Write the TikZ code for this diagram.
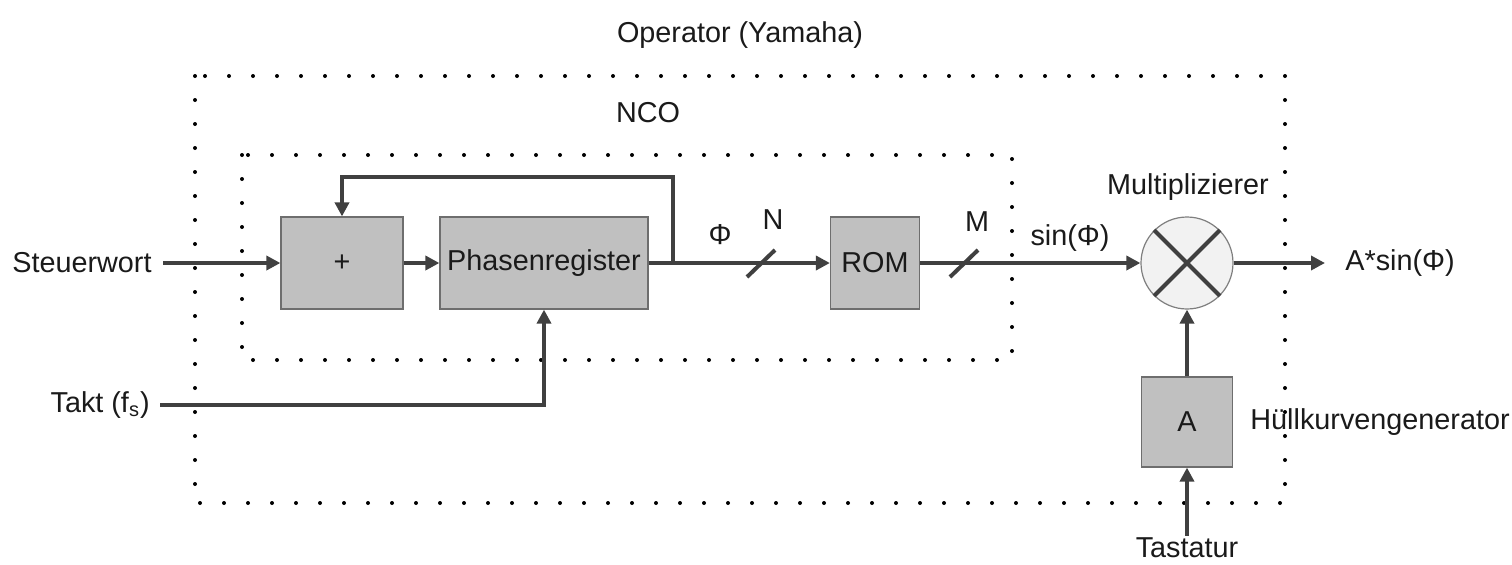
\documentclass[tikz,border=0pt]{standalone}
\usepackage{fontspec}
\setmainfont{Liberation Sans}
\usetikzlibrary{positioning,arrows.meta}

\definecolor{wirecol}{HTML}{404040}
\definecolor{blockgray}{HTML}{C0C0C0}
\definecolor{blockline}{HTML}{6E6E6E}
\definecolor{mixfill}{HTML}{F2F2F2}
\definecolor{mixline}{HTML}{7F7F7F}
\definecolor{textdark}{HTML}{1A1A1A}

\begin{document}
\begin{tikzpicture}[
  x=0.5pt, y=-0.5pt,
  font=\fontsize{14.4}{17}\selectfont,
  block/.style={rectangle, draw=blockline, fill=blockgray, line width=0.6pt, minimum height=46pt, text=textdark, inner sep=0pt},
  mixer/.style={circle, draw=mixline, fill=mixfill, line width=0.6pt, minimum size=46pt, inner sep=0pt},
  io/.style={text=textdark, inner xsep=0pt, inner ysep=1pt},
  wire/.style={line width=2pt, draw=wirecol},
  arrow/.style={wire, -{Triangle[length=7pt,width=7pt]}},
  frame/.style={line width=2pt, line cap=round, dash pattern=on 0pt off 12pt}
]
\useasboundingbox (0,0) rectangle (1512,564);

% Dotted frames: operator and NCO
\draw[frame] (195,76) rectangle (1285,503);
\draw[frame] (242,155) rectangle (1012,360);
\node[io] (operator) at (740,35) {Operator (Yamaha)};
\node[io] (nco) at (648,113) {NCO};

% Blocks
\node[block, minimum width=61pt] (plus) at (342,263) {+};
\node[block, minimum width=104pt] (phase) at (544,263) {Phasenregister};
\node[block, minimum width=44.5pt] (rom) at (875,263) {ROM};
\node[mixer] (mult) at (1187,263) {};
\node[block, minimum width=45.5pt, minimum height=45pt] (env) at (1187,422) {A};

% Inputs and outputs
\node[io, anchor=east, inner xsep=5.5pt] (steuer) at (163,263) {Steuerwort};
\node[io, anchor=east, inner xsep=5pt] (takt) at (160,405) {Takt (f\textsubscript{s})};
\node[io, anchor=west, inner xsep=10pt] (out) at (1325,263) {A*sin(Φ)};
\node[io, inner ysep=1pt] (tast) at (1187,548) {Tastatur};

% Labels
\node[io] (multlbl) at (1188,187) {Multiplizierer};
\node[io, anchor=west] (envlbl) at (1250,422) {Hüllkurvengenerator};
\node[io] (philbl) at (720,235) {Φ};
\node[io] (nlbl) at (773,220) {N};
\node[io] (mlbl) at (977,222) {M};
\node[io] (sinlbl) at (1070,238) {sin(Φ)};

% Connectors
\coordinate (branch) at (673,263);
\coordinate (fbtop) at (673,177);
\coordinate (slashN) at (761,263);
\coordinate (slashM) at (964,263);

\draw[arrow] (steuer.east) -- (plus.west);
\draw[arrow] (plus.east) -- (phase.west);
\draw[arrow] (phase.east) -- (rom.west);
\draw[arrow] (branch) -- (fbtop) -| (plus.north);
\draw[arrow] (takt.east) -| (phase.south);
\draw[arrow] (rom.east) -- (mult.west);
\draw[arrow] (mult.east) -- (out.west);
\draw[arrow] (env.north) -- (mult.south);
\draw[arrow] (tast.north) -- (env.south);

% Bus width marks
\draw[wire] ([shift={(-14,14)}]slashN) -- ([shift={(14,-13)}]slashN);
\draw[wire] ([shift={(-14,14)}]slashM) -- ([shift={(14,-13)}]slashM);

% Multiplier cross
\draw[wire] (mult.north west) -- (mult.south east);
\draw[wire] (mult.south west) -- (mult.north east);

\end{tikzpicture}
\end{document}
